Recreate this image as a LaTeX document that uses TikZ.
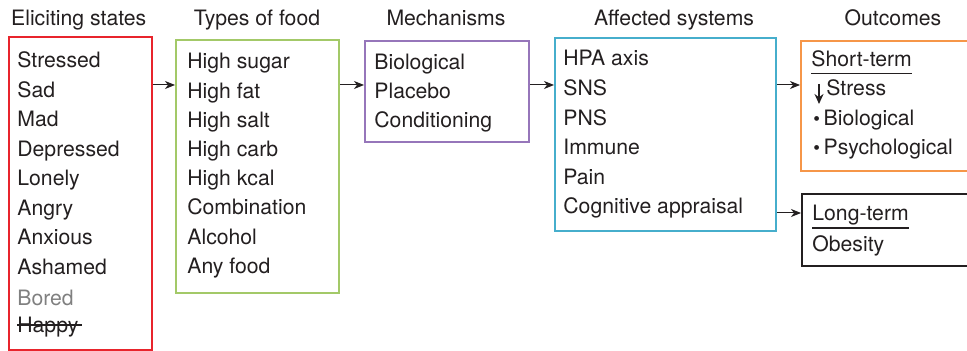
\documentclass[tikz,border=0pt]{standalone}
\usepackage{fontspec}
\setmainfont{TeX Gyre Heros}
\usetikzlibrary{arrows.meta}

\definecolor{ink}{RGB}{35,31,32}
\definecolor{boxred}{RGB}{232,36,44}
\definecolor{boxgreen}{RGB}{163,201,104}
\definecolor{boxpurple}{RGB}{150,118,186}
\definecolor{boxblue}{RGB}{70,174,204}
\definecolor{boxorange}{RGB}{246,150,72}
\definecolor{boredgray}{RGB}{128,128,128}

\newcommand{\smallbullet}{\raisebox{0.3pt}{\scalebox{0.9}{\textbullet}}\hspace{1.8pt}}

\tikzset{
  panel/.style={draw=#1, line width=1pt, anchor=north west, inner sep=0pt},
  item/.style={anchor=base west, inner sep=0pt, text=ink,
    font=\fontsize{10.6}{12}\selectfont},
  head/.style={anchor=base, inner sep=0pt, text=ink,
    font=\fontsize{10.6}{12}\selectfont},
  link/.style={draw=ink, line width=0.5pt, -{Stealth[length=5pt,width=4pt,inset=1.5pt]}},
}

\begin{document}
\begin{tikzpicture}[x=0.5pt,y=-0.5pt]
\useasboundingbox (0,0) rectangle (967,351);
\clip (0,0) rectangle (967,351);

% column titles
\node[head] (hstates) at (78.7,26) {Eliciting states};
\node[head] (hfood) at (257,26) {Types of food};
\node[head] (hmech) at (446,26) {Mechanisms};
\node[head] (hsys) at (674,26) {Affected systems};
\node[head] (hout) at (893,26) {Outcomes};

% boxes
\node[panel=boxred, minimum width=71.5pt, minimum height=156.5pt] (states) at (8,36) {};
\node[panel=boxgreen, minimum width=81.5pt, minimum height=126.25pt] (food) at (175,39.5) {};
\node[panel=boxpurple, minimum width=82pt, minimum height=50.5pt] (mech) at (364,40) {};
\node[panel=boxblue, minimum width=110.5pt, minimum height=96.5pt] (sys) at (554,37) {};
\node[panel=boxorange, minimum width=95pt, minimum height=65pt] (short) at (800,40) {};
\node[panel=ink, minimum width=94.5pt, minimum height=36pt] (long) at (801,193) {};

% eliciting states
\foreach \txt [count=\i] in {Stressed,Sad,Mad,Depressed,Lonely,Angry,Anxious,Ashamed}
  \node[item] (st\i) at (17,{68+29.5*(\i-1)}) {\txt};
\node[item, text=boredgray] (bored) at (17,306) {Bored};
\node[item] (happy) at (17,333) {Happy};
\draw[ink, line width=0.6pt] ([yshift=4pt]happy.base west) -- ([xshift=1.5pt,yshift=4pt]happy.base east);

% types of food
\foreach \txt [count=\i] in {High sugar,High fat,High salt,High carb,High kcal,Combination,Alcohol,Any food}
  \node[item] (fd\i) at (187,{69+29.2*(\i-1)}) {\txt};

% mechanisms
\foreach \txt [count=\i] in {Biological,Placebo,Conditioning}
  \node[item] (mc\i) at (374,{70+29*(\i-1)}) {\txt};

% affected systems
\foreach \txt [count=\i] in {HPA axis,SNS,PNS,Immune,Pain,Cognitive appraisal}
  \node[item] (sy\i) at (563,{66+29.6*(\i-1)}) {\txt};

% outcomes
\node[item] (shorthead) at (811,67) {Short-term};
\draw[ink, line width=0.6pt] ([yshift=-3.3pt]shorthead.base west) -- ([yshift=-3.3pt]shorthead.base east);
\node[item] (stress) at (826,96) {Stress};
\draw[ink, line width=0.8pt, -{Stealth[length=5pt,width=4.5pt]}] ([xshift=-3.5pt,yshift=6pt]stress.base west) -- ([xshift=-3.5pt,yshift=-4pt]stress.base west);
\node[item] (bio) at (813,126) {\smallbullet Biological};
\node[item] (psy) at (813,155) {\smallbullet Psychological};

\node[item] (longhead) at (812,221) {Long-term};
\draw[ink, line width=0.6pt] ([yshift=-3.5pt]longhead.base west) -- ([yshift=-3.5pt]longhead.base east);
\node[item] (obes) at (812,252) {Obesity};

% connectors
\coordinate (upper) at (0,85);
\coordinate (lower) at (0,213);
\draw[link] (states.east |- upper) -- (food.west |- upper);
\draw[link] (food.east |- upper) -- (mech.west |- upper);
\draw[link] (mech.east |- upper) -- (sys.west |- upper);
\draw[link] (sys.east |- upper) -- (short.west |- upper);
\draw[link] (sys.east |- lower) -- (long.west |- lower);
\end{tikzpicture}
\end{document}
